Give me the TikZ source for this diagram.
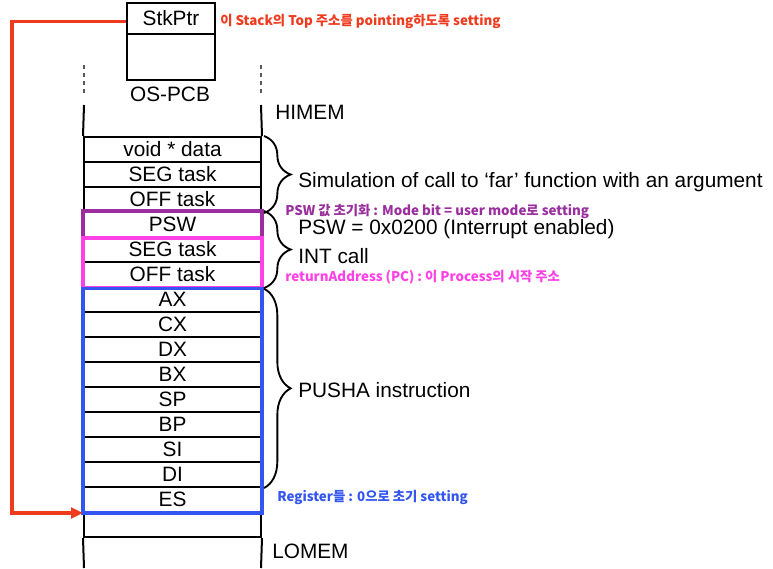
\documentclass[tikz,border=0pt]{standalone}
\usepackage{fontspec}
\setmainfont{Liberation Sans}
\newfontfamily\kor{Noto Sans CJK KR}
\usetikzlibrary{positioning,decorations.pathreplacing,arrows.meta}

\definecolor{ptrred}{HTML}{F03A1E}
\definecolor{pswpurple}{HTML}{9A2E9E}
\definecolor{retpink}{HTML}{FF40E6}
\definecolor{regblue}{HTML}{3355F0}

\tikzset{
  cell/.style={draw, line width=1.5pt, minimum width=132.75pt, minimum height=18.75pt, inner sep=0pt, font=\fontsize{15.6}{18}\selectfont},
  txt/.style={anchor=west, inner sep=0pt, font=\fontsize{15.6}{18}\selectfont},
  note/.style={anchor=west, inner sep=0pt, font=\kor\bfseries\fontsize{10}{12}\selectfont},
  brc/.style={decorate, decoration={brace, amplitude=20pt}, line width=1.4pt},
}

\begin{document}
\begin{tikzpicture}[x=0.75pt, y=-0.75pt]
\useasboundingbox (0,0) rectangle (773,568);

% OS-PCB box
\node[cell, minimum width=66pt, minimum height=23.25pt] (stk) at (171,18.5) {StkPtr};
\node[cell, minimum width=66pt, minimum height=34.5pt] (pcb) at (171,57) {};
\node[font=\fontsize{15.6}{18}\selectfont, inner sep=0pt] (pcblbl) at (170,94) {OS-PCB};

% stack rows
\foreach \lbl [count=\i] in {void * data, SEG task, OFF task, PSW, SEG task, OFF task,
    AX, CX, DX, BX, SP, BP, SI, DI, ES, {}}
  \node[cell] (r\i) at (172.5, {137+25*(\i-0.5)}) {\lbl};

% column sides
\coordinate (ldash) at (84,65);
\coordinate (rdash) at (261,65);
\coordinate (ldashend) at (84,97);
\coordinate (rdashend) at (261,97);
\coordinate (ltop) at (84,105);
\coordinate (rtop) at (261,105);
\coordinate (lbot) at (84,568);
\coordinate (rbot) at (261,568);
\draw[line width=1.4pt, dashed, gray!70!black] (ldash) -- (ldashend);
\draw[line width=1.4pt, dashed, gray!70!black] (rdash) -- (rdashend);
\draw[line width=1.5pt] (ltop) -- (r1.north west);
\draw[line width=1.5pt] (rtop) -- (r1.north east);
\draw[line width=1.5pt] (r16.south west) -- (lbot);
\draw[line width=1.5pt] (r16.south east) -- (rbot);

\node[txt] (himem) at (275,112) {HIMEM};
\node[txt] (lomem) at (272,551) {LOMEM};

% coloured groups
\draw[pswpurple, line width=2.3pt] (r4.north west) rectangle (r4.south east);
\draw[retpink, line width=2.3pt] ([yshift=-1.5pt]r5.north west) rectangle (r6.south east);
\draw[regblue, line width=2.3pt] ([yshift=-2pt]r7.north west) rectangle (r15.south east);

% braces
\draw[brc] ([xshift=1.5pt]r1.north east) -- ([xshift=1.5pt]r3.south east);
\draw[brc] ([xshift=1.5pt]r4.north east) -- ([xshift=1.5pt]r6.south east);
\draw[brc] ([xshift=1.5pt,yshift=-2pt]r7.north east) -- ([xshift=1.5pt]r14.south east);

\node[txt] (sim) at (298,182) {Simulation of call to ‘far’ function with an argument};
\node[txt] (psw) at (298,229) {PSW = 0x0200 (Interrupt enabled)};
\node[txt] (int) at (298,256) {INT call};
\node[txt] (pusha) at (298,390) {PUSHA instruction};

% notes
\node[note, text=ptrred] (n1) at (220,21) {이 Stack의 Top 주소를 pointing하도록 setting};
\node[note, text=pswpurple] (n2) at (285,211) {PSW 값 초기화 : Mode bit = user mode로 setting};
\node[note, text=retpink] (n3) at (285,277) {returnAddress (PC) : 이 Process의 시작 주소};
\node[note, text=regblue] (n4) at (277,497) {Register들 : 0으로 초기 setting};

% stack pointer
\coordinate (bend) at (12,300);
\draw[ptrred, line width=2.4pt, -{Triangle[length=9pt,width=8pt]}] ([yshift=-2.5pt]stk.west) -| (bend) |- (r15.south west);
\end{tikzpicture}
\end{document}
